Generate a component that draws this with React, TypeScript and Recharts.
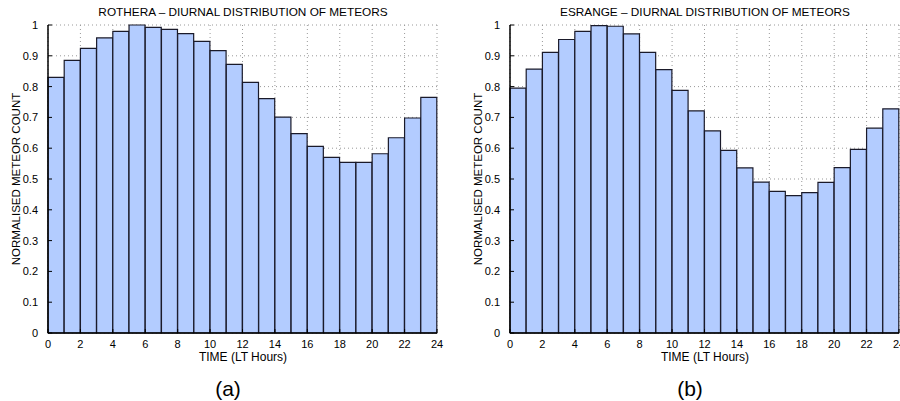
import React from "react";
import { BarChart, Bar, XAxis, YAxis, CartesianGrid } from "recharts";

const hours = [0, 1, 2, 3, 4, 5, 6, 7, 8, 9, 10, 11, 12, 13, 14, 15, 16, 17, 18, 19, 20, 21, 22, 23];
const rotheraCounts = [0.830, 0.885, 0.924, 0.958, 0.979, 1.0, 0.992, 0.986, 0.972, 0.947, 0.917, 0.872, 0.814, 0.761, 0.701, 0.647, 0.606, 0.570, 0.554, 0.554, 0.582, 0.634, 0.698, 0.765];
const esrangeCounts = [0.795, 0.857, 0.911, 0.953, 0.979, 0.998, 0.996, 0.971, 0.911, 0.855, 0.788, 0.721, 0.656, 0.593, 0.536, 0.490, 0.460, 0.446, 0.456, 0.489, 0.537, 0.596, 0.665, 0.728];
const xTicks = [0, 2, 4, 6, 8, 10, 12, 14, 16, 18, 20, 22, 24];
const yTicks = [0, 0.1, 0.2, 0.3, 0.4, 0.5, 0.6, 0.7, 0.8, 0.9, 1];

const FONT = "'Liberation Sans', Arial, Helvetica, sans-serif";

const fmtY = (v: number) => (v === 0 ? "0" : v === 1 ? "1" : v.toFixed(1));
const blank = () => "";

function Panel({
  values,
  width,
  margin,
}: {
  values: number[];
  width: number;
  margin: { top: number; right: number; bottom: number; left: number };
}) {
  const data = hours.map((h, i) => ({ hour: h, mid: h + 0.5, v: values[i] }));
  const tickStyle = { fill: "#000", fontSize: 11, fontFamily: FONT };
  const axisLine = { stroke: "#000", strokeWidth: 1.5 };
  const tickLine = { stroke: "#000", strokeWidth: 1 };
  return (
    <BarChart width={width} height={401} data={data} margin={margin} barCategoryGap={0} barGap={0}>
      <CartesianGrid
        xAxisId="num"
        yAxisId="left"
        stroke="#999"
        strokeDasharray="1 3"
        verticalValues={xTicks}
        horizontalValues={yTicks}
      />
      <XAxis
        xAxisId="num"
        dataKey="mid"
        type="number"
        domain={[0, 24]}
        ticks={xTicks}
        interval={0}
        allowDataOverflow
        height={30}
        tick={tickStyle}
        tickLine={tickLine}
        tickSize={-4}
        tickMargin={11}
        axisLine={axisLine}
      />
      <XAxis xAxisId="cat" dataKey="hour" type="category" hide height={0} />
      <XAxis
        xAxisId="top"
        orientation="top"
        type="number"
        dataKey="mid"
        domain={[0, 24]}
        ticks={xTicks}
        interval={0}
        height={0}
        tick={tickStyle}
        tickFormatter={blank}
        tickLine={tickLine}
        tickSize={-4}
        axisLine={axisLine}
      />
      <YAxis
        yAxisId="left"
        domain={[0, 1]}
        ticks={yTicks}
        interval={0}
        width={30}
        tick={tickStyle}
        tickFormatter={fmtY}
        tickLine={tickLine}
        tickSize={-4}
        tickMargin={14}
        axisLine={axisLine}
      />
      <YAxis
        yAxisId="right"
        orientation="right"
        domain={[0, 1]}
        ticks={yTicks}
        interval={0}
        width={0}
        tick={tickStyle}
        tickFormatter={blank}
        tickLine={tickLine}
        tickSize={-4}
        axisLine={axisLine}
      />
      <Bar
        xAxisId="cat"
        yAxisId="left"
        dataKey="v"
        fill="#b3ccff"
        stroke="#1a1a2a"
        strokeWidth={1.2}
        isAnimationActive={false}
      />
    </BarChart>
  );
}

const textBase: React.CSSProperties = {
  position: "absolute",
  fontFamily: FONT,
  color: "#000",
  whiteSpace: "nowrap",
  lineHeight: 1,
};

function T({ x, y, size, children, rotate }: { x: number; y: number; size: number; children: React.ReactNode; rotate?: boolean }) {
  return (
    <div
      style={{
        ...textBase,
        left: x,
        top: y,
        fontSize: size,
        transform: rotate ? "translate(-50%, -50%) rotate(-90deg)" : "translate(-50%, -50%)",
      }}
    >
      {children}
    </div>
  );
}

export default function App() {
  return (
    <div style={{ position: "absolute", left: 0, top: 0, width: 900, height: 401, background: "#fff", overflow: "hidden" }}>
      <div style={{ position: "absolute", left: 0, top: 0, width: 450, height: 401 }}>
        <Panel values={rotheraCounts} width={450} margin={{ top: 25, right: 13, bottom: 38, left: 18 }} />
      </div>
      <div style={{ position: "absolute", left: 450, top: 0, width: 450, height: 401, overflow: "hidden" }}>
        <Panel values={esrangeCounts} width={460} margin={{ top: 25, right: 11, bottom: 38, left: 30 }} />
      </div>
      <T x={243} y={13} size={11.8}>ROTHERA – DIURNAL DISTRIBUTION OF METEORS</T>
      <T x={705} y={13} size={11.8}>ESRANGE – DIURNAL DISTRIBUTION OF METEORS</T>
      <T x={17} y={179} size={11.5} rotate>NORMALISED METEOR COUNT</T>
      <T x={479} y={179} size={11.5} rotate>NORMALISED METEOR COUNT</T>
      <T x={243} y={357} size={12}>TIME (LT Hours)</T>
      <T x={705} y={357} size={12}>TIME (LT Hours)</T>
      <T x={228} y={388} size={21}>(a)</T>
      <T x={690} y={388} size={21}>(b)</T>
    </div>
  );
}
